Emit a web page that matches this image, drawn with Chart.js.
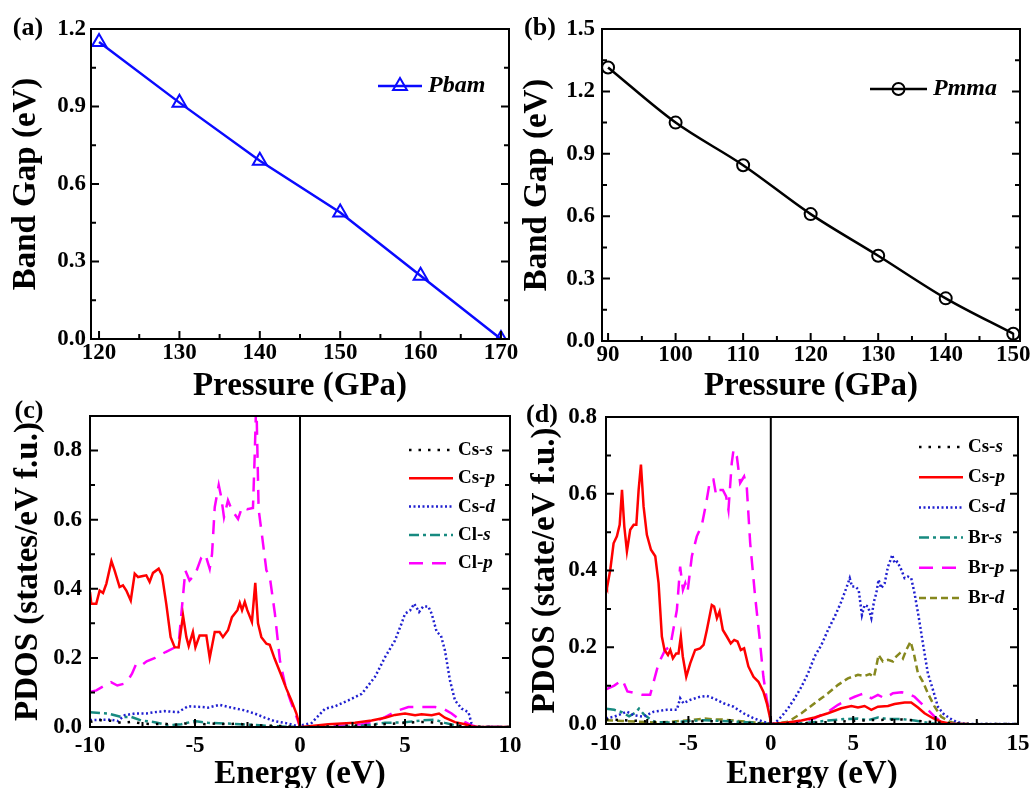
<!DOCTYPE html>
<html>
<head>
<meta charset="utf-8">
<script src="https://cdn.jsdelivr.net/npm/chart.js@4.4.1/dist/chart.umd.min.js"></script>
<style>
  html, body { margin: 0; padding: 0; background: #fff; }
  #wrap { position: relative; width: 1036px; height: 788px; }
  canvas { position: absolute; left: 0; top: 0; }
</style>
</head>
<body>
<div id="wrap">
  <canvas id="chartA" width="1036" height="788"></canvas>
  <canvas id="chartB" width="1036" height="788"></canvas>
  <canvas id="chartC" width="1036" height="788"></canvas>
  <canvas id="chartD" width="1036" height="788"></canvas>
</div>
<script>
// (a) band gap of Pbam
const pressureA = [120, 130, 140, 150, 160, 170];
const gapPbam = [1.15, 0.915, 0.69, 0.49, 0.245, 0.0];
// (b) band gap of Pmma
const pressureB = [90, 100, 110, 120, 130, 140, 150];
const gapPmma = [1.315, 1.05, 0.845, 0.61, 0.41, 0.205, 0.035];

// tick labels
const ticksAx = [120, 130, 140, 150, 160, 170];
const ticksAy = [0, 0.3, 0.6, 0.9, 1.2];
const ticksBx = [90, 100, 110, 120, 130, 140, 150];
const ticksBy = [0, 0.3, 0.6, 0.9, 1.2, 1.5];
const ticksCx = [-10, -5, 0, 5, 10];
const ticksCy = [0, 0.2, 0.4, 0.6, 0.8];
const ticksDx = [-10, -5, 0, 5, 10, 15];
const ticksDy = [0, 0.2, 0.4, 0.6, 0.8];

// (c) PDOS, pairs of [energy, states]
const cCsS = [[-10,0.015],[-9.5,0.02],[-9,0.018],[-8.5,0.012],[-8,0.015],[-7.5,0.01],[-7,0.008],[-6.5,0.01],[-6,0.006],[-5.5,0.01],[-5,0.012],[-4.5,0.008],[-4,0.01],[-3.5,0.008],[-3,0.01],[-2.5,0.006],[-2,0.005],[-1,0.003],[0,0],[1,0.001],[2,0.003],[3,0.005],[4,0.008],[5,0.012],[5.5,0.014],[6,0.015],[6.5,0.012],[7,0.008],[7.5,0.004],[8,0.002],[9,0],[10,0]];
const cCsP = [[-10,0.39],[-9.94,0.357],[-9.7,0.357],[-9.54,0.395],[-9.38,0.388],[-9.22,0.415],[-8.98,0.48],[-8.83,0.453],[-8.59,0.405],[-8.43,0.41],[-8.27,0.395],[-8.06,0.366],[-7.87,0.444],[-7.71,0.434],[-7.48,0.437],[-7.32,0.439],[-7.16,0.42],[-7.0,0.446],[-6.73,0.458],[-6.57,0.439],[-6.37,0.357],[-6.16,0.26],[-5.97,0.231],[-5.78,0.23],[-5.57,0.323],[-5.41,0.26],[-5.3,0.234],[-5.1,0.275],[-4.98,0.231],[-4.78,0.265],[-4.46,0.265],[-4.3,0.2],[-4.06,0.275],[-3.83,0.275],[-3.67,0.26],[-3.43,0.28],[-3.24,0.318],[-2.98,0.338],[-2.87,0.359],[-2.76,0.338],[-2.63,0.362],[-2.51,0.338],[-2.29,0.304],[-2.13,0.417],[-2.0,0.3],[-1.84,0.26],[-1.6,0.241],[-1.44,0.238],[-1.21,0.198],[-0.92,0.154],[-0.65,0.111],[-0.41,0.077],[-0.17,0.039],[0,0],[0.2,0.001],[1.35,0.008],[2.62,0.012],[3.41,0.019],[4.05,0.027],[4.52,0.035],[5.0,0.039],[5.48,0.034],[5.79,0.037],[6.27,0.034],[6.62,0.039],[6.9,0.027],[7.38,0.014],[7.86,0.008],[8.17,0.002],[8.5,0],[10,0]];
const cCsD = [[-10,0.02],[-9.46,0.021],[-8.98,0.021],[-8.67,0.017],[-8.35,0.034],[-7.87,0.039],[-7.32,0.039],[-6.92,0.043],[-6.44,0.046],[-5.81,0.043],[-5.33,0.06],[-4.7,0.058],[-4.38,0.056],[-3.83,0.064],[-3.27,0.056],[-2.63,0.048],[-2.16,0.039],[-1.68,0.027],[-1.21,0.017],[-0.57,0.01],[-0.1,0.002],[0,0],[0.08,0.005],[0.56,0.012],[1.19,0.053],[1.67,0.06],[2.3,0.077],[2.94,0.096],[3.57,0.145],[4.05,0.202],[4.52,0.25],[4.84,0.3],[5.0,0.328],[5.24,0.337],[5.44,0.357],[5.67,0.333],[5.87,0.349],[6.11,0.349],[6.27,0.328],[6.51,0.275],[6.71,0.265],[6.9,0.222],[7.14,0.135],[7.38,0.077],[7.7,0.053],[8.02,0.043],[8.17,0.01],[8.33,0],[10,0]];
const cClS = [[-10,0.043],[-9.14,0.039],[-8.51,0.029],[-8.03,0.029],[-7.56,0.019],[-6.92,0.014],[-6.29,0.005],[-5.65,0.008],[-5.02,0.017],[-4.38,0.012],[-3.43,0.01],[-2.48,0.007],[-1.21,0.002],[0,0],[2,0],[3,0.004],[4.05,0.012],[5.0,0.014],[5.79,0.019],[6.43,0.021],[6.9,0.012],[7.38,0.005],[8,0],[10,0]];
const cClP = [[-10,0.101],[-9.7,0.106],[-9.3,0.12],[-9.0,0.13],[-8.7,0.12],[-8.4,0.125],[-8.2,0.135],[-8.0,0.154],[-7.8,0.183],[-7.55,0.178],[-7.3,0.19],[-6.9,0.2],[-6.4,0.217],[-5.97,0.23],[-5.78,0.241],[-5.62,0.347],[-5.46,0.453],[-5.26,0.424],[-4.98,0.443],[-4.7,0.49],[-4.51,0.5],[-4.3,0.458],[-4.19,0.5],[-4.06,0.636],[-3.87,0.7],[-3.75,0.665],[-3.62,0.607],[-3.43,0.656],[-3.24,0.627],[-2.95,0.602],[-2.76,0.636],[-2.51,0.63],[-2.24,0.634],[-2.16,0.78],[-2.08,0.95],[-1.97,0.63],[-1.8,0.55],[-1.6,0.453],[-1.44,0.435],[-1.2,0.33],[-0.95,0.19],[-0.7,0.12],[-0.45,0.075],[-0.17,0.03],[0,0],[1.5,0.002],[2.94,0.008],[3.73,0.019],[4.21,0.034],[4.68,0.048],[5.16,0.058],[5.79,0.058],[6.43,0.058],[6.82,0.053],[7.22,0.039],[7.54,0.024],[7.86,0.014],[8.17,0.005],[8.4,0],[10,0]];

// (d) PDOS, pairs of [energy, states]
const dCsS = [[-10,0.012],[-9,0.01],[-8,0.008],[-7,0.005],[-6,0.004],[-5,0.006],[-4,0.008],[-3,0.006],[-2,0.004],[-1,0.002],[0,0],[2,0.002],[4,0.006],[6,0.01],[8,0.012],[9,0.008],[10,0.004],[11,0.002],[12,0],[15,0]];
const dCsP = [[-10,0.36],[-9.94,0.354],[-9.74,0.402],[-9.54,0.471],[-9.34,0.489],[-9.17,0.519],[-9.03,0.61],[-8.89,0.515],[-8.73,0.45],[-8.53,0.506],[-8.32,0.519],[-8.16,0.519],[-8.02,0.61],[-7.88,0.676],[-7.72,0.567],[-7.52,0.493],[-7.27,0.454],[-7.01,0.437],[-6.81,0.367],[-6.61,0.228],[-6.45,0.193],[-6.24,0.18],[-6.1,0.193],[-5.94,0.171],[-5.74,0.184],[-5.6,0.184],[-5.46,0.228],[-5.34,0.176],[-5.13,0.123],[-4.89,0.158],[-4.59,0.193],[-4.29,0.197],[-4.08,0.206],[-3.88,0.245],[-3.58,0.31],[-3.44,0.306],[-3.27,0.276],[-3.11,0.293],[-2.91,0.245],[-2.67,0.228],[-2.43,0.21],[-2.22,0.219],[-2.02,0.215],[-1.82,0.193],[-1.62,0.197],[-1.36,0.15],[-1.05,0.123],[-0.75,0.11],[-0.45,0.084],[-0.24,0.054],[-0.04,0.015],[0,0],[1.0,0.004],[1.86,0.009],[2.66,0.017],[3.47,0.028],[4.28,0.041],[4.89,0.047],[5.29,0.043],[5.69,0.047],[6.1,0.037],[6.5,0.045],[7.11,0.047],[7.51,0.052],[8.12,0.056],[8.52,0.056],[8.93,0.043],[9.33,0.028],[9.84,0.015],[10.34,0.006],[10.95,0],[12,0]];
const dCsD = [[-10,0.015],[-9.5,0.019],[-8.73,0.032],[-8.32,0.023],[-7.72,0.019],[-7.11,0.032],[-6.31,0.037],[-5.7,0.037],[-5.5,0.067],[-5.3,0.054],[-4.89,0.063],[-4.29,0.071],[-3.88,0.073],[-3.48,0.067],[-2.87,0.054],[-2.26,0.045],[-1.66,0.028],[-1.05,0.015],[-0.45,0.006],[0,0],[0.24,0.002],[0.64,0.019],[1.05,0.041],[1.45,0.067],[1.86,0.097],[2.26,0.132],[2.66,0.176],[3.07,0.206],[3.47,0.245],[3.88,0.28],[4.28,0.319],[4.58,0.354],[4.79,0.38],[4.93,0.358],[5.13,0.358],[5.33,0.35],[5.53,0.284],[5.69,0.31],[5.9,0.306],[6.1,0.276],[6.26,0.319],[6.4,0.341],[6.54,0.376],[6.7,0.354],[6.91,0.367],[7.11,0.41],[7.27,0.428],[7.37,0.441],[7.51,0.419],[7.67,0.423],[7.88,0.406],[8.12,0.38],[8.32,0.384],[8.52,0.38],[8.72,0.341],[8.97,0.28],[9.23,0.21],[9.53,0.132],[9.84,0.089],[10.14,0.045],[10.44,0.028],[10.85,0.015],[11.25,0.006],[11.65,0.002],[12,0],[15,0]];
const dBrS = [[-10,0.04],[-9.5,0.037],[-9.0,0.03],[-8.6,0.02],[-8.2,0.03],[-8.0,0.04],[-7.7,0.025],[-7.3,0.012],[-7.0,0.005],[-6,0.004],[-5,0.008],[-4,0.01],[-3,0.008],[-2,0.006],[-1,0.003],[0,0],[1,0],[2.26,0.003],[3.47,0.009],[4.48,0.013],[5.29,0.014],[5.9,0.01],[6.5,0.017],[7.11,0.013],[7.92,0.013],[8.72,0.009],[9.53,0.003],[10.2,0],[12,0]];
const dBrP = [[-10,0.09],[-9.5,0.1],[-9.0,0.115],[-8.7,0.085],[-8.2,0.08],[-7.8,0.076],[-7.32,0.076],[-6.81,0.158],[-6.41,0.193],[-6.1,0.202],[-5.7,0.297],[-5.5,0.41],[-5.33,0.35],[-5.19,0.367],[-5.05,0.345],[-4.79,0.437],[-4.49,0.489],[-4.18,0.519],[-3.92,0.576],[-3.68,0.637],[-3.48,0.637],[-3.32,0.597],[-3.17,0.61],[-2.91,0.61],[-2.71,0.593],[-2.57,0.558],[-2.37,0.68],[-2.26,0.715],[-2.06,0.697],[-1.86,0.628],[-1.62,0.645],[-1.46,0.619],[-1.25,0.471],[-0.95,0.332],[-0.69,0.228],[-0.45,0.123],[-0.24,0.063],[-0.04,0.019],[0,0],[0.5,0],[1.86,0.006],[2.66,0.015],[3.47,0.032],[4.08,0.05],[4.68,0.063],[5.09,0.071],[5.39,0.076],[5.69,0.08],[6.1,0.067],[6.5,0.076],[6.91,0.067],[7.41,0.08],[7.92,0.083],[8.32,0.08],[8.72,0.071],[9.13,0.054],[9.53,0.037],[9.94,0.019],[10.34,0.006],[10.8,0],[12,0]];
const dBrD = [[-10,0.01],[-9,0.008],[-8,0.006],[-7,0.004],[-6,0.006],[-5,0.01],[-4,0.014],[-3.5,0.012],[-3,0.012],[-2,0.008],[-1,0.004],[0,0],[0.24,0],[1.05,0.006],[1.86,0.028],[2.66,0.054],[3.47,0.08],[4.08,0.102],[4.68,0.119],[5.29,0.128],[5.69,0.125],[6.0,0.13],[6.26,0.123],[6.4,0.15],[6.54,0.18],[6.8,0.163],[7.11,0.167],[7.41,0.163],[7.61,0.176],[7.82,0.184],[8.02,0.171],[8.22,0.193],[8.48,0.215],[8.68,0.184],[8.93,0.132],[9.23,0.11],[9.53,0.08],[9.94,0.045],[10.34,0.019],[10.85,0.006],[11.35,0],[12,0]];

const FONT = '"Liberation Serif", "Times New Roman", serif';
const pts = arr => arr.map(p => ({x: p[0], y: p[1]}));

// frame with inward ticks, like Origin
const framePlugin = {
  id: 'frame',
  afterDatasetsDraw(chart, args, o) {
    const {ctx, chartArea: a, scales: {x, y}} = chart;
    const mids = arr => arr.slice(1).map((v, i) => (v + arr[i]) / 2);
    ctx.save();
    ctx.strokeStyle = '#000';
    ctx.lineWidth = 2;
    if (o.zeroLine) {
      const px = x.getPixelForValue(0);
      ctx.beginPath(); ctx.moveTo(px, a.top); ctx.lineTo(px, a.bottom); ctx.stroke();
    }
    ctx.strokeRect(a.left, a.top, a.right - a.left, a.bottom - a.top);
    const tick = (vals, len) => {
      vals.forEach(v => {
        const py = y.getPixelForValue(v);
        ctx.beginPath();
        ctx.moveTo(a.left, py); ctx.lineTo(a.left + len, py);
        ctx.moveTo(a.right, py); ctx.lineTo(a.right - len, py);
        ctx.stroke();
      });
    };
    const tickX = (vals, len) => {
      vals.forEach(v => {
        const px = x.getPixelForValue(v);
        ctx.beginPath(); ctx.moveTo(px, a.bottom); ctx.lineTo(px, a.bottom - len); ctx.stroke();
      });
    };
    tick(o.yTicks, 8); tick(mids(o.yTicks), 5);
    tickX(o.xTicks, 8); tickX(mids(o.xTicks), 5);
    ctx.restore();
  }
};

// legend: line sample + label, part after '-' in italic
const legendPlugin = {
  id: 'lineLegend',
  afterDraw(chart, args, o) {
    const ctx = chart.ctx;
    chart.data.datasets.forEach((ds, i) => {
      const y = o.y + i * o.dy;
      ctx.save();
      ctx.strokeStyle = ds.borderColor;
      ctx.lineWidth = ds.borderWidth;
      ctx.setLineDash(ds.borderDash || []);
      ctx.beginPath(); ctx.moveTo(o.x, y); ctx.lineTo(o.x + o.len, y); ctx.stroke();
      ctx.setLineDash([]);
      if (ds.pointRadius) {
        const cx = o.x + o.len / 2, r = ds.pointRadius;
        ctx.lineWidth = ds.pointBorderWidth;
        ctx.beginPath();
        if (ds.pointStyle === 'triangle') {
          ctx.moveTo(cx - r * 0.866, y + r * 0.5);
          ctx.lineTo(cx, y - r);
          ctx.lineTo(cx + r * 0.866, y + r * 0.5);
          ctx.closePath();
        } else {
          ctx.arc(cx, y, r, 0, Math.PI * 2);
        }
        ctx.stroke();
      }
      let base = ds.label, ital = '';
      if (o.italicAll) { base = ''; ital = ds.label; }
      else { const k = ds.label.indexOf('-'); base = ds.label.slice(0, k + 1); ital = ds.label.slice(k + 1); }
      ctx.fillStyle = '#000';
      ctx.textBaseline = 'middle';
      ctx.textAlign = 'left';
      let tx = o.x + o.len + o.gap;
      ctx.font = 'bold ' + o.size + 'px ' + FONT;
      ctx.fillText(base, tx, y);
      tx += ctx.measureText(base).width;
      ctx.font = 'italic bold ' + o.size + 'px ' + FONT;
      ctx.fillText(ital, tx, y);
      ctx.restore();
    });
  }
};

const tagPlugin = {
  id: 'panelTag',
  afterDraw(chart, args, o) {
    const ctx = chart.ctx;
    ctx.save();
    ctx.font = 'bold 26px ' + FONT;
    ctx.fillStyle = '#000';
    ctx.textAlign = 'center';
    ctx.textBaseline = 'middle';
    ctx.fillText(o.text, o.x, o.y);
    ctx.restore();
  }
};

function makePanel(id, c) {
  const tickFont = {family: FONT, size: 23, weight: 'bold'};
  const titleFont = {family: FONT, size: 33, weight: 'bold', lineHeight: 0.6};
  return new Chart(document.getElementById(id), {
    type: 'line',
    data: {datasets: c.datasets},
    options: {
      responsive: false,
      animation: false,
      layout: {padding: c.pad},
      plugins: {
        legend: {display: false},
        tooltip: {enabled: false},
        frame: {xTicks: c.xTicks, yTicks: c.yTicks, zeroLine: c.zeroLine},
        lineLegend: c.legend,
        panelTag: c.tag
      },
      scales: {
        x: {
          type: 'linear', min: c.xMin, max: c.xMax,
          grid: {display: false, drawTicks: false},
          border: {display: false},
          ticks: {font: tickFont, color: '#000', padding: c.xTickPad, autoSkip: false, maxRotation: 0,
                  callback: v => String(v)},
          title: {display: true, text: c.xTitle, font: titleFont, color: '#000', padding: {top: 0, bottom: c.xTitlePad}},
          afterBuildTicks: s => { s.ticks = c.xTicks.map(v => ({value: v})); },
          afterFit: s => { s.height = c.xH; s.paddingLeft = 0; s.paddingRight = 0; }
        },
        y: {
          type: 'linear', min: c.yMin, max: c.yMax,
          grid: {display: false, drawTicks: false},
          border: {display: false},
          ticks: {font: tickFont, color: '#000', padding: c.yTickPad, autoSkip: false,
                  callback: v => Number(v).toFixed(1)},
          title: {display: true, text: c.yTitle, font: titleFont, color: '#000', padding: {top: c.yTitlePad, bottom: 0}},
          afterBuildTicks: s => { s.ticks = c.yTicks.map(v => ({value: v})); },
          afterFit: s => { s.width = c.yW; s.paddingTop = 0; s.paddingBottom = 0; }
        }
      }
    },
    plugins: [framePlugin, legendPlugin, tagPlugin]
  });
}

function pdosSet(label, data, color, width, dash) {
  return {label: label, data: pts(data), borderColor: color, borderWidth: width, borderDash: dash,
          pointRadius: 0, fill: false, tension: 0};
}

makePanel('chartA', {
  datasets: [{
    label: 'Pbam', data: pressureA.map((p, i) => ({x: p, y: gapPbam[i]})),
    borderColor: '#0a0aff', borderWidth: 2.5, pointStyle: 'triangle', pointRadius: 8, pointBorderWidth: 2,
    pointBorderColor: '#0a0aff', pointBackgroundColor: 'rgba(255,255,255,0)', tension: 0
  }],
  pad: {left: 0, top: 29, right: 527, bottom: 379},
  xMin: 119, xMax: 171, yMin: 0, yMax: 1.2, xTicks: ticksAx, yTicks: ticksAy,
  xTitle: 'Pressure (GPa)', yTitle: 'Band Gap (eV)',
  xH: 70, yW: 91, xTickPad: 0, yTickPad: 5, xTitlePad: 13, yTitlePad: 17,
  legend: {x: 378, y: 86, dy: 0, len: 44, gap: 6, size: 24, italicAll: true},
  tag: {text: '(a)', x: 28, y: 28}
});

makePanel('chartB', {
  datasets: [{
    label: 'Pmma', data: pressureB.map((p, i) => ({x: p, y: gapPmma[i]})),
    borderColor: '#000', borderWidth: 2.5, pointStyle: 'circle', pointRadius: 6, pointBorderWidth: 2,
    pointBorderColor: '#000', pointBackgroundColor: 'rgba(255,255,255,0)', cubicInterpolationMode: 'monotone'
  }],
  pad: {left: 510, top: 29, right: 16, bottom: 379},
  xMin: 89.1, xMax: 151, yMin: 0, yMax: 1.5, xTicks: ticksBx, yTicks: ticksBy,
  xTitle: 'Pressure (GPa)', yTitle: 'Band Gap (eV)',
  xH: 68, yW: 92, xTickPad: 0, yTickPad: 7, xTitlePad: 13, yTitlePad: 18,
  legend: {x: 870, y: 89, dy: 0, len: 57, gap: 6, size: 24, italicAll: true},
  tag: {text: '(b)', x: 540, y: 28}
});

makePanel('chartC', {
  datasets: [
    pdosSet('Cs-s', cCsS, '#000', 2.5, [2.5, 7]),
    pdosSet('Cs-p', cCsP, '#ff0000', 2.5, []),
    pdosSet('Cs-d', cCsD, '#2020d0', 2.5, [2, 2.5]),
    pdosSet('Cl-s', cClS, '#178a80', 2.5, [10, 4, 3, 4]),
    pdosSet('Cl-p', cClP, '#ff00ff', 2.5, [14, 9])
  ],
  pad: {left: 0, top: 416, right: 526, bottom: 0},
  xMin: -10, xMax: 10, yMin: 0, yMax: 0.9, xTicks: ticksCx, yTicks: ticksCy, zeroLine: true,
  xTitle: 'Energy (eV)', yTitle: 'PDOS (states/eV f.u.)',
  xH: 61, yW: 90, xTickPad: 5, yTickPad: 8, xTitlePad: 4, yTitlePad: 19,
  legend: {x: 409, y: 450, dy: 28.3, len: 44, gap: 5, size: 19},
  tag: {text: '(c)', x: 29, y: 411}
});

makePanel('chartD', {
  datasets: [
    pdosSet('Cs-s', dCsS, '#000', 2.5, [2.5, 7]),
    pdosSet('Cs-p', dCsP, '#ff0000', 2.5, []),
    pdosSet('Cs-d', dCsD, '#2020d0', 2.5, [2, 2.5]),
    pdosSet('Br-s', dBrS, '#178a80', 2.5, [10, 4, 3, 4]),
    pdosSet('Br-p', dBrP, '#ff00ff', 2.5, [14, 9]),
    pdosSet('Br-d', dBrD, '#86881e', 2.5, [7, 4])
  ],
  pad: {left: 510, top: 417, right: 18, bottom: 0},
  xMin: -10, xMax: 15, yMin: 0, yMax: 0.8, xTicks: ticksDx, yTicks: ticksDy, zeroLine: true,
  xTitle: 'Energy (eV)', yTitle: 'PDOS (state/eV f.u.)',
  xH: 64, yW: 96, xTickPad: 6, yTickPad: 9, xTitlePad: 4, yTitlePad: 26,
  legend: {x: 919, y: 447, dy: 30.2, len: 44, gap: 5, size: 19},
  tag: {text: '(d)', x: 542, y: 415}
});
</script>
</body>
</html>
